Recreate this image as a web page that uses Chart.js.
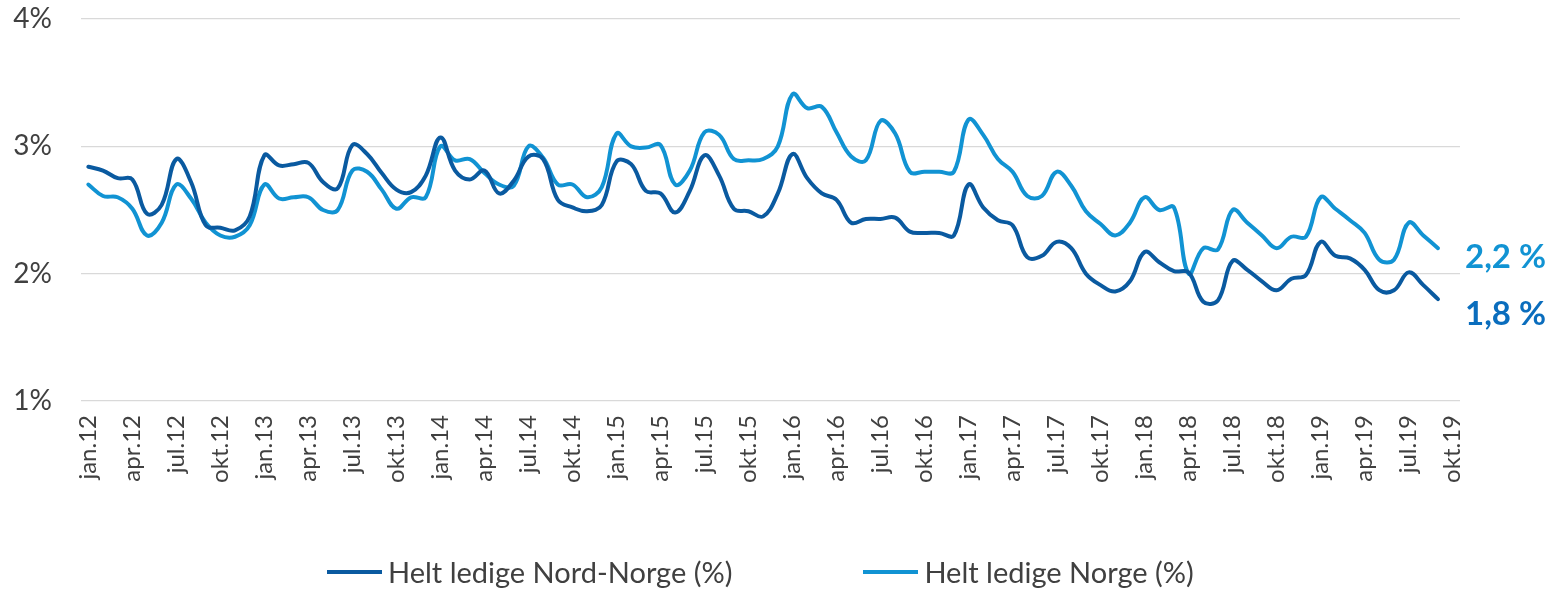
<!DOCTYPE html>
<html>
<head>
<meta charset="utf-8">
<script src="https://cdn.jsdelivr.net/npm/chart.js@4/dist/chart.umd.min.js"></script>
<style>
  html, body { margin: 0; padding: 0; background: #ffffff; }
  #wrap { position: relative; width: 1556px; height: 589px; overflow: hidden; }
  #c { display: block; }
  #legend { position: absolute; left: 327px; top: 554px; display: flex; align-items: center;
            font-family: Lato, "Open Sans", sans-serif; font-size: 29px; line-height: 36px;
            color: #404040; white-space: nowrap; }
  .item { display: flex; align-items: center; }
  .item + .item { margin-left: 131px; }
  .swatch { width: 55px; height: 4px; margin-right: 6px; }
</style>
</head>
<body>
<div id="wrap">
  <canvas id="c" width="1556" height="589" style="width:1556px;height:589px"></canvas>
  <div id="legend"></div>
</div>
<script>
// Months jan.12 – okt.19 (okt.19 has no observation yet)
const months = [
  "jan.12","feb.12","mar.12","apr.12","mai.12","jun.12","jul.12","aug.12","sep.12","okt.12","nov.12","des.12",
  "jan.13","feb.13","mar.13","apr.13","mai.13","jun.13","jul.13","aug.13","sep.13","okt.13","nov.13","des.13",
  "jan.14","feb.14","mar.14","apr.14","mai.14","jun.14","jul.14","aug.14","sep.14","okt.14","nov.14","des.14",
  "jan.15","feb.15","mar.15","apr.15","mai.15","jun.15","jul.15","aug.15","sep.15","okt.15","nov.15","des.15",
  "jan.16","feb.16","mar.16","apr.16","mai.16","jun.16","jul.16","aug.16","sep.16","okt.16","nov.16","des.16",
  "jan.17","feb.17","mar.17","apr.17","mai.17","jun.17","jul.17","aug.17","sep.17","okt.17","nov.17","des.17",
  "jan.18","feb.18","mar.18","apr.18","mai.18","jun.18","jul.18","aug.18","sep.18","okt.18","nov.18","des.18",
  "jan.19","feb.19","mar.19","apr.19","mai.19","jun.19","jul.19","aug.19","sep.19","okt.19"
];

// Helt ledige, Nord-Norge (% av arbeidsstyrken)
const nordNorge = [
  2.84, 2.81, 2.75, 2.74, 2.47, 2.54, 2.90, 2.72, 2.38, 2.36, 2.34, 2.45,
  2.93, 2.85, 2.86, 2.87, 2.72, 2.67, 3.01, 2.94, 2.79, 2.66, 2.64, 2.77,
  3.07, 2.81, 2.74, 2.81, 2.63, 2.73, 2.92, 2.90, 2.58, 2.52, 2.49, 2.54,
  2.88, 2.86, 2.65, 2.63, 2.48, 2.65, 2.93, 2.77, 2.51, 2.49, 2.45, 2.63,
  2.94, 2.75, 2.63, 2.58, 2.40, 2.43, 2.43, 2.44, 2.33, 2.32, 2.32, 2.30,
  2.70, 2.52, 2.42, 2.38, 2.13, 2.14, 2.25, 2.20, 2.00, 1.91, 1.86, 1.94,
  2.17, 2.09, 2.02, 2.01, 1.78, 1.79, 2.10, 2.03, 1.94, 1.87, 1.96, 1.99,
  2.25, 2.14, 2.12, 2.03, 1.87, 1.87, 2.01, 1.91, 1.80
];

// Helt ledige, hele landet (%)
const norge = [
  2.70, 2.61, 2.60, 2.51, 2.30, 2.40, 2.70, 2.59, 2.40, 2.30, 2.29, 2.38,
  2.70, 2.59, 2.60, 2.60, 2.50, 2.50, 2.81, 2.80, 2.66, 2.51, 2.60, 2.60,
  3.00, 2.89, 2.90, 2.79, 2.70, 2.69, 3.00, 2.91, 2.70, 2.70, 2.60, 2.68,
  3.10, 3.00, 2.99, 3.01, 2.70, 2.81, 3.11, 3.09, 2.90, 2.89, 2.90, 3.00,
  3.41, 3.30, 3.31, 3.11, 2.92, 2.89, 3.20, 3.10, 2.80, 2.80, 2.80, 2.80,
  3.21, 3.09, 2.90, 2.80, 2.61, 2.61, 2.80, 2.69, 2.49, 2.39, 2.30, 2.40,
  2.60, 2.50, 2.52, 2.00, 2.20, 2.19, 2.50, 2.40, 2.30, 2.20, 2.29, 2.29,
  2.60, 2.51, 2.42, 2.32, 2.11, 2.11, 2.40, 2.30, 2.20
];

const seriesNames = ["Helt ledige Nord-Norge (%)", "Helt ledige Norge (%)"];
const yTicks = [1, 2, 3, 4];

const DARK = "#0A5AA0";
const LIGHT = "#1193D3";
const FONT = "Lato, 'Open Sans', sans-serif";

// Writes the latest value of each series just right of the plot area
const endValueLabels = {
  id: "endValueLabels",
  afterDatasetsDraw(chart, args, opts) {
    const { ctx, chartArea } = chart;
    ctx.save();
    ctx.font = "bold 33px " + FONT;
    ctx.textAlign = "left";
    ctx.textBaseline = "middle";
    chart.data.datasets.forEach((ds, i) => {
      const meta = chart.getDatasetMeta(i);
      const last = ds.data.length - 1;
      const pt = meta.data[last];
      const txt = ds.data[last].toFixed(1).replace(".", ",") + " %";
      ctx.fillStyle = opts.colors[i];
      ctx.fillText(txt, chartArea.right + 5, pt.y + opts.offsets[i]);
    });
    ctx.restore();
  }
};

function draw() {
  const chart = new Chart(document.getElementById("c"), {
    type: "line",
    data: {
      labels: months,
      datasets: [
        { label: seriesNames[0], data: nordNorge, borderColor: DARK, backgroundColor: DARK,
          borderWidth: 4, pointRadius: 0, tension: 0.4, fill: false, borderCapStyle: "round" },
        { label: seriesNames[1], data: norge, borderColor: LIGHT, backgroundColor: LIGHT,
          borderWidth: 4, pointRadius: 0, tension: 0.4, fill: false, borderCapStyle: "round" }
      ]
    },
    options: {
      responsive: false,
      animation: false,
      layout: { padding: { top: 19, right: 96, bottom: 0, left: 0 } },
      plugins: {
        legend: { display: false },
        tooltip: { enabled: false },
        endValueLabels: { colors: [ "#0A6DBD", LIGHT ], offsets: [15, 9] }
      },
      scales: {
        x: {
          offset: true,
          grid: { display: false, drawTicks: false },
          border: { display: false },
          ticks: {
            autoSkip: false, minRotation: 90, maxRotation: 90, padding: 14,
            color: "#404040", font: { family: FONT, size: 24 },
            callback(v, i) { return i % 3 === 0 ? this.getLabelForValue(v) : ""; }
          },
          afterFit(s) { s.height = 188; s.paddingLeft = 0; s.paddingRight = 0; }
        },
        y: {
          min: yTicks[0], max: yTicks[yTicks.length - 1],
          afterBuildTicks(s) { s.ticks = yTicks.map(v => ({ value: v })); },
          grid: { color: "#d9d9d9", lineWidth: 1.3, drawTicks: false },
          border: { display: false },
          ticks: { padding: 29, color: "#404040", font: { family: FONT, size: 28 },
                   callback: v => v + "%" },
          afterFit(s) { s.width = 81; s.paddingTop = 0; s.paddingBottom = 0; }
        }
      }
    },
    plugins: [endValueLabels]
  });

  // Legend below the chart, built from the datasets
  const legend = document.getElementById("legend");
  chart.data.datasets.forEach(ds => {
    const item = document.createElement("div");
    item.className = "item";
    const sw = document.createElement("span");
    sw.className = "swatch";
    sw.style.background = ds.borderColor;
    const tx = document.createElement("span");
    tx.textContent = ds.label;
    item.appendChild(sw);
    item.appendChild(tx);
    legend.appendChild(item);
  });
}

if (document.fonts && document.fonts.load) {
  Promise.all([document.fonts.load("28px Lato"), document.fonts.load("bold 33px Lato")])
    .then(draw, draw);
} else {
  draw();
}
</script>
</body>
</html>
